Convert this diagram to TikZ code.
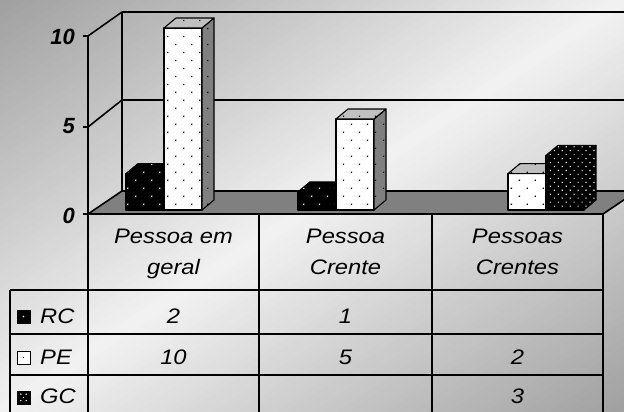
\documentclass[tikz,border=0pt]{standalone}
\usepackage{fontspec}
\setmainfont{Liberation Sans}
\usetikzlibrary{patterns.meta}
\definecolor{bgA}{RGB}{160,160,160}
\definecolor{bgM}{RGB}{242,242,242}
\definecolor{bgB}{RGB}{160,160,160}
\definecolor{floorgray}{RGB}{128,128,128}
\definecolor{sidegray}{RGB}{128,128,128}
\definecolor{topgray}{RGB}{192,192,192}
\newcommand{\sx}[1]{\scalebox{1.13}[1]{#1}}
\newcommand{\drawbar}[5]{%
  \pgfmathsetmacro{\yt}{210-18.2*#2}%
  \pgfmathsetmacro{\xr}{#1+38}%
  \path[#3] (#1,210) rectangle (\xr,\yt);
  \path[#4] (\xr,210) -- (\xr+12,200) -- (\xr+12,\yt-10) -- (\xr,\yt) -- cycle;
  \path[#5] (#1,\yt) -- (#1+12,\yt-10) -- (\xr+12,\yt-10) -- (\xr,\yt) -- cycle;
}
\tikzset{
  ln/.style={line width=1.6pt, line join=round},
  face/.style={draw=black, line width=1.1pt, line join=round},
  rcface/.style={face, preaction={fill=black}, pattern={Dots[radius=0.9pt,distance=11.3pt,angle=45]}, pattern color=white},
  peface/.style={face, preaction={fill=white}, pattern={Dots[radius=0.9pt,distance=11.3pt,angle=45]}, pattern color=black},
  peside/.style={face, preaction={fill=sidegray}, pattern={Dots[radius=0.9pt,distance=11.3pt,angle=45]}, pattern color=black},
  petop/.style={face, preaction={fill=topgray}, pattern={Dots[radius=0.9pt,distance=11.3pt,angle=45]}, pattern color=black},
  gcface/.style={face, preaction={fill=black}, pattern={Dots[radius=0.8pt,distance=5.6pt,angle=45]}, pattern color=white},
  cell/.style={inner sep=0pt, anchor=base, font=\fontsize{21}{25}\selectfont\itshape},
  axlab/.style={inner sep=0pt, anchor=base east, font=\fontsize{22}{26}\selectfont\bfseries\itshape},
}
\begin{document}
\begin{tikzpicture}[x=1pt,y=-1pt]
\useasboundingbox (0,0) rectangle (624,412);
\begin{scope}
\clip (0,0) rectangle (624,412);
\foreach \i in {0,...,99}{
  \pgfmathsetmacro{\sa}{\i*0.02}
  \pgfmathsetmacro{\sb}{\i*0.02+0.025}
  \pgfmathtruncatemacro{\pa}{\i<50 ? 2*\i+1 : 2*(\i-50)+1}
  \ifnum\i<50
    \colorlet{stripe}{bgM!\pa!bgA}
  \else
    \colorlet{stripe}{bgB!\pa!bgM}
  \fi
  \fill[stripe] (624*\sa+624,-412) -- (624*\sa-1248,824) -- (624*\sb-1248,824) -- (624*\sb+624,-412) -- cycle;
}
\end{scope}
% back wall and left wall
\draw[ln] (122,12) -- (640,12);
\draw[ln] (122,100) -- (640,100);
\draw[ln] (122,12) -- (122,191);
\draw[ln] (88,36) -- (88,214);
\draw[ln] (88,36) -- (122,12);
\draw[ln] (88,127) -- (122,100);
% floor
\filldraw[ln, fill=floorgray] (88,214) -- (603,214) -- (637,191) -- (122,191) -- cycle;
% ticks
\draw[ln] (83,36) -- (88,36);
\draw[ln] (83,127) -- (88,127);
\draw[ln] (83,214) -- (88,214);
% bars
\drawbar{126}{2}{rcface}{rcface}{rcface}
\drawbar{164}{10}{peface}{peside}{petop}
\drawbar{298}{1}{rcface}{rcface}{rcface}
\drawbar{336}{5}{peface}{peside}{petop}
\drawbar{508}{2}{peface}{peside}{petop}
\drawbar{546}{3}{gcface}{gcface}{gcface}
% axis labels
\node[axlab] (y10) at (75,45) {10};
\node[axlab] (y5) at (75,133) {5};
\node[axlab] (y0) at (75,223) {0};
% data table
\draw[ln] (88,214) -- (88,420);
\draw[ln] (259,214) -- (259,420);
\draw[ln] (432,214) -- (432,420);
\draw[ln] (603,214) -- (603,420);
\draw[ln] (10,290) -- (603,290);
\draw[ln] (10,334) -- (603,334);
\draw[ln] (10,375) -- (603,375);
\draw[ln] (10,290) -- (10,420);
% headers
\node[cell] (h1a) at (173.5,243) {\sx{Pessoa em}};
\node[cell] (h1b) at (173.5,274) {\sx{geral}};
\node[cell] (h2a) at (345.5,243) {\sx{Pessoa}};
\node[cell] (h2b) at (345.5,274) {\sx{Crente}};
\node[cell] (h3a) at (517.5,243) {\sx{Pessoas}};
\node[cell] (h3b) at (517.5,274) {\sx{Crentes}};
% legend keys
\filldraw[line width=0.8pt, fill=black] (17,310) rectangle (30,323);
\fill[white] (23.5,316.5) circle (0.9pt);
\filldraw[line width=0.8pt, fill=white] (17,351) rectangle (30,364);
\fill[black] (23.5,357.5) circle (0.6pt);
\filldraw[line width=0.8pt, fill=black] (17,391) rectangle (30,404);
\fill[white] (20.8,394.2) circle (0.8pt) (26.2,394.2) circle (0.8pt) (20.8,400.6) circle (0.8pt) (26.2,400.6) circle (0.8pt) (23.5,397.5) circle (0.6pt);
\node[cell, anchor=base west] (lrc) at (40,323) {\sx{RC}};
\node[cell, anchor=base west] (lpe) at (40,364) {\sx{PE}};
\node[cell, anchor=base west] (lgc) at (40,403) {\sx{GC}};
% values
\node[cell] (v11) at (173.5,323) {\sx{2}};
\node[cell] (v12) at (345.5,323) {\sx{1}};
\node[cell] (v21) at (173.5,364) {\sx{10}};
\node[cell] (v22) at (345.5,364) {\sx{5}};
\node[cell] (v23) at (517.5,364) {\sx{2}};
\node[cell] (v33) at (517.5,403) {\sx{3}};
\end{tikzpicture}
\end{document}
